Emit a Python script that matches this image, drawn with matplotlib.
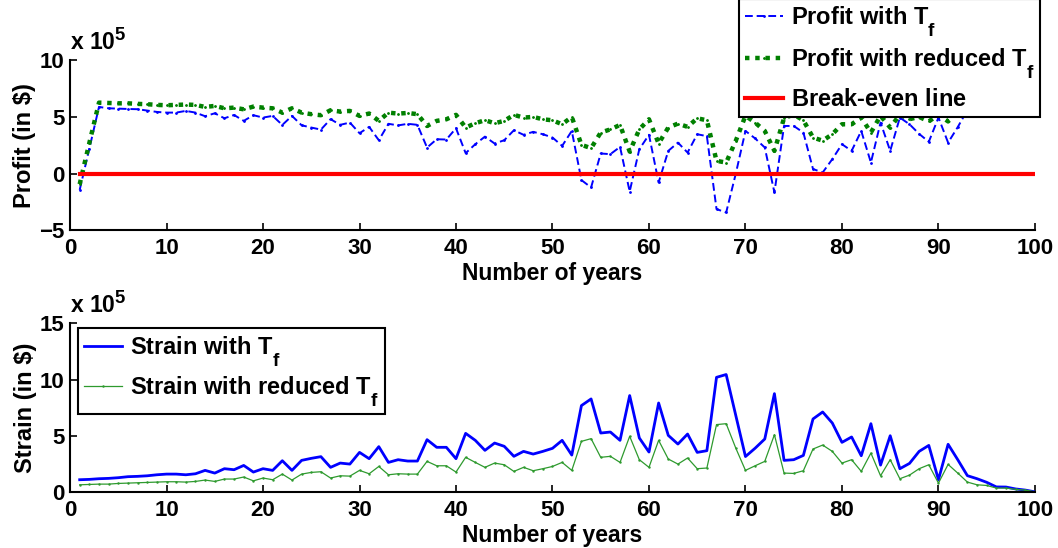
import matplotlib
matplotlib.use('Agg')
import matplotlib.pyplot as plt
from matplotlib import _mathtext

# MATLAB-like bold Helvetica look
plt.rcParams['font.family'] = ['Liberation Sans', 'DejaVu Sans']
plt.rcParams['font.weight'] = 'bold'
plt.rcParams['mathtext.fontset'] = 'custom'
plt.rcParams['mathtext.rm'] = 'Liberation Sans:bold'
plt.rcParams['mathtext.bf'] = 'Liberation Sans:bold'

# MATLAB subscripts are bigger and sit lower than the mathtext defaults
_mathtext.SHRINK_FACTOR = 0.8
_mathtext.FontConstantsBase.sub1 = 0.9

years = list(range(1, 101))

# profit per year, in units of 1e5 $
profit_tf = [-1.44, 2.20, 5.88, 5.76, 5.73, 5.70, 5.68, 5.56, 5.44, 5.38,
             5.38, 5.53, 5.38, 5.06, 5.32, 4.88, 5.17, 4.65, 5.15, 4.94,
             5.09, 4.29, 5.09, 4.26, 4.06, 3.88, 4.80, 4.30, 4.50, 3.56,
             4.12, 2.94, 4.39, 4.25, 4.39, 4.30, 2.29, 3.03, 3.00, 4.00,
             1.80, 2.59, 3.26, 2.65, 2.94, 3.82, 3.42, 3.68, 3.47, 3.18,
             2.44, 3.76, -0.58, -1.23, 1.77, 1.71, 2.35, -1.59, 2.15, 3.42,
             -0.79, 2.00, 2.73, 1.85, 3.47, 3.30, -3.14, -3.44, 0.00, 3.76,
             3.10, 2.30, -1.67, 4.20, 4.20, 3.62, 0.40, 0.09, 1.27, 2.59,
             2.00, 3.76, 0.97, 4.50, 2.00, 4.94, 4.35, 3.50, 2.80, 4.94,
             2.73, 4.10, 5.60, 5.90, 6.10, 5.80, 6.30, 6.00, 6.20, 6.40]

profit_reduced = [-0.94, 2.70, 6.26, 6.23, 6.20, 6.20, 6.15, 6.12, 6.06, 6.03,
                  6.06, 6.09, 6.06, 5.88, 5.97, 5.76, 5.82, 5.67, 5.91, 5.82,
                  5.76, 5.38, 5.76, 5.38, 5.24, 5.15, 5.59, 5.47, 5.53, 5.09,
                  5.30, 4.65, 5.38, 5.29, 5.35, 5.24, 4.20, 4.65, 4.79, 5.18,
                  4.06, 4.44, 4.71, 4.44, 4.65, 5.18, 4.94, 5.00, 4.79, 4.70,
                  4.35, 5.00, 2.53, 2.24, 3.62, 3.90, 4.29, 1.94, 3.90, 4.79,
                  2.65, 4.06, 4.41, 4.12, 4.88, 4.70, 1.12, 0.97, 2.90, 5.10,
                  4.50, 3.76, 2.00, 4.90, 5.20, 4.70, 3.18, 2.90, 3.47, 4.35,
                  4.35, 4.94, 3.62, 5.10, 4.06, 5.20, 4.80, 5.00, 4.60, 5.20,
                  4.60, 5.50, 6.10, 6.30, 6.00, 6.50, 6.20, 6.40, 6.60, 6.50]

breakeven_years = [1, 100]
breakeven = [0, 0]

# strain per year, in units of 1e5 $
strain_tf = [1.10, 1.13, 1.19, 1.22, 1.28, 1.37, 1.40, 1.45, 1.54, 1.60,
             1.60, 1.54, 1.63, 1.93, 1.69, 2.08, 1.99, 2.37, 1.78, 2.08,
             1.93, 2.79, 1.93, 2.82, 3.00, 3.15, 2.20, 2.58, 2.49, 3.53,
             2.97, 4.04, 2.64, 2.88, 2.76, 2.76, 4.66, 3.98, 3.98, 2.97,
             5.22, 4.60, 3.71, 4.36, 4.07, 3.18, 3.62, 3.38, 3.62, 3.89,
             4.60, 3.29, 7.69, 8.28, 5.25, 5.34, 4.60, 8.58, 4.81, 3.56,
             7.92, 5.04, 4.27, 5.16, 3.53, 3.68, 10.20, 10.45, 6.80, 3.16,
             3.90, 4.72, 8.75, 2.82, 2.88, 3.26, 6.50, 7.12, 6.14, 4.42,
             4.90, 3.23, 6.08, 2.40, 5.01, 2.08, 2.55, 3.62, 4.15, 1.10,
             4.25, 2.88, 1.46, 1.19, 0.87, 0.46, 0.45, 0.28, 0.18, 0.02]

strain_reduced = [0.65, 0.68, 0.71, 0.71, 0.77, 0.80, 0.83, 0.86, 0.89, 0.92,
                  0.92, 0.89, 0.95, 1.07, 0.95, 1.16, 1.16, 1.34, 1.00, 1.25,
                  1.10, 1.60, 1.07, 1.60, 1.75, 1.81, 1.25, 1.45, 1.42, 1.93,
                  1.63, 2.28, 1.54, 1.63, 1.60, 1.60, 2.73, 2.34, 2.34, 1.78,
                  3.09, 2.64, 2.20, 2.58, 2.43, 1.84, 2.20, 1.90, 2.08, 2.28,
                  2.64, 1.93, 4.51, 4.75, 3.09, 3.18, 2.64, 4.96, 2.88, 2.20,
                  4.60, 2.94, 2.49, 3.03, 2.08, 2.14, 6.00, 6.08, 3.90, 1.93,
                  2.34, 2.73, 5.10, 1.69, 1.66, 1.90, 3.83, 4.18, 3.62, 2.58,
                  2.88, 1.84, 3.47, 1.45, 2.88, 1.19, 1.51, 2.08, 2.43, 0.80,
                  2.46, 1.69, 0.89, 0.65, 0.59, 0.36, 0.36, 0.24, 0.18, 0.03]

xticks = list(range(0, 101, 10))
profit_yticks = [-5, 0, 5, 10]
strain_yticks = [0, 5, 10, 15]

TICK_FS = 16
LABEL_FS = 16.5
LEG_FS = 17


def style_axes(ax, ylabel):
    for side in ['top', 'right']:
        ax.spines[side].set_visible(False)
    for side in ['left', 'bottom']:
        ax.spines[side].set_linewidth(1.5)
    ax.tick_params(direction='in', length=5, width=1.2, labelsize=TICK_FS)
    ax.tick_params(axis='y', pad=4)
    ax.tick_params(axis='x', pad=6)
    ax.set_xlim(0, 100)
    ax.set_xticks(xticks)
    ax.set_xlabel('Number of years', fontsize=LABEL_FS, fontweight='bold', labelpad=2)
    ax.set_ylabel(ylabel, fontsize=17, fontweight='bold', labelpad=2)
    ax.text(0.0, 1.03, r'x 10$^{5}$', transform=ax.transAxes,
            ha='left', va='bottom', fontsize=LABEL_FS, fontweight='bold')


def make_legend(ax, loc, anchor, spacing):
    leg = ax.legend(loc=loc, bbox_to_anchor=anchor, bbox_transform=fig.transFigure,
                    fontsize=LEG_FS, fancybox=False, framealpha=1, edgecolor='black',
                    handlelength=1.6, handletextpad=0.35, labelspacing=spacing,
                    borderpad=0.25, borderaxespad=0)
    leg.get_frame().set_linewidth(1.5)
    return leg


fig = plt.figure(figsize=(10.58, 5.48), dpi=100)
ax1 = fig.add_axes([0.0662, 0.580, 0.912, 0.310])
ax2 = fig.add_axes([0.0662, 0.102, 0.912, 0.308])

# profit plot
ax1.plot(years, profit_tf, color='#0000ff', linestyle=(0, (4, 2)), lw=1.4,
         marker='.', markersize=2, label=r'Profit with T$_{\mathbf{f}}$')
ax1.plot(years, profit_reduced, color='#008000', linestyle=(0, (1, 1.3)), lw=3.2,
         marker='.', markersize=2, label=r'Profit with reduced T$_{\mathbf{f}}$')
# mathtext label too, so all three rows get the same height
ax1.plot(breakeven_years, breakeven, color='#ff0000', lw=3, label=r'Break-even line$\,$')
ax1.set_ylim(-5, 10)
ax1.set_yticks(profit_yticks)
style_axes(ax1, 'Profit (in $)')
# legend runs off the top of the figure
make_legend(ax1, 'lower left', (739 / 1058, 1 - 117 / 548), 0.30)

# strain plot
ax2.plot(years, strain_tf, color='#0000ff', lw=2, label=r'Strain with T$_{\mathbf{f}}$')
ax2.plot(years, strain_reduced, color='#2e9a2e', lw=0.9, marker='.', markersize=1.5,
         label=r'Strain with reduced T$_{\mathbf{f}}$')
ax2.set_ylim(0, 15)
ax2.set_yticks(strain_yticks)
style_axes(ax2, 'Strain (in $)')
make_legend(ax2, 'upper left', (78 / 1058, 1 - 328 / 548), 0.23)

fig.savefig('out.png', dpi=100)
